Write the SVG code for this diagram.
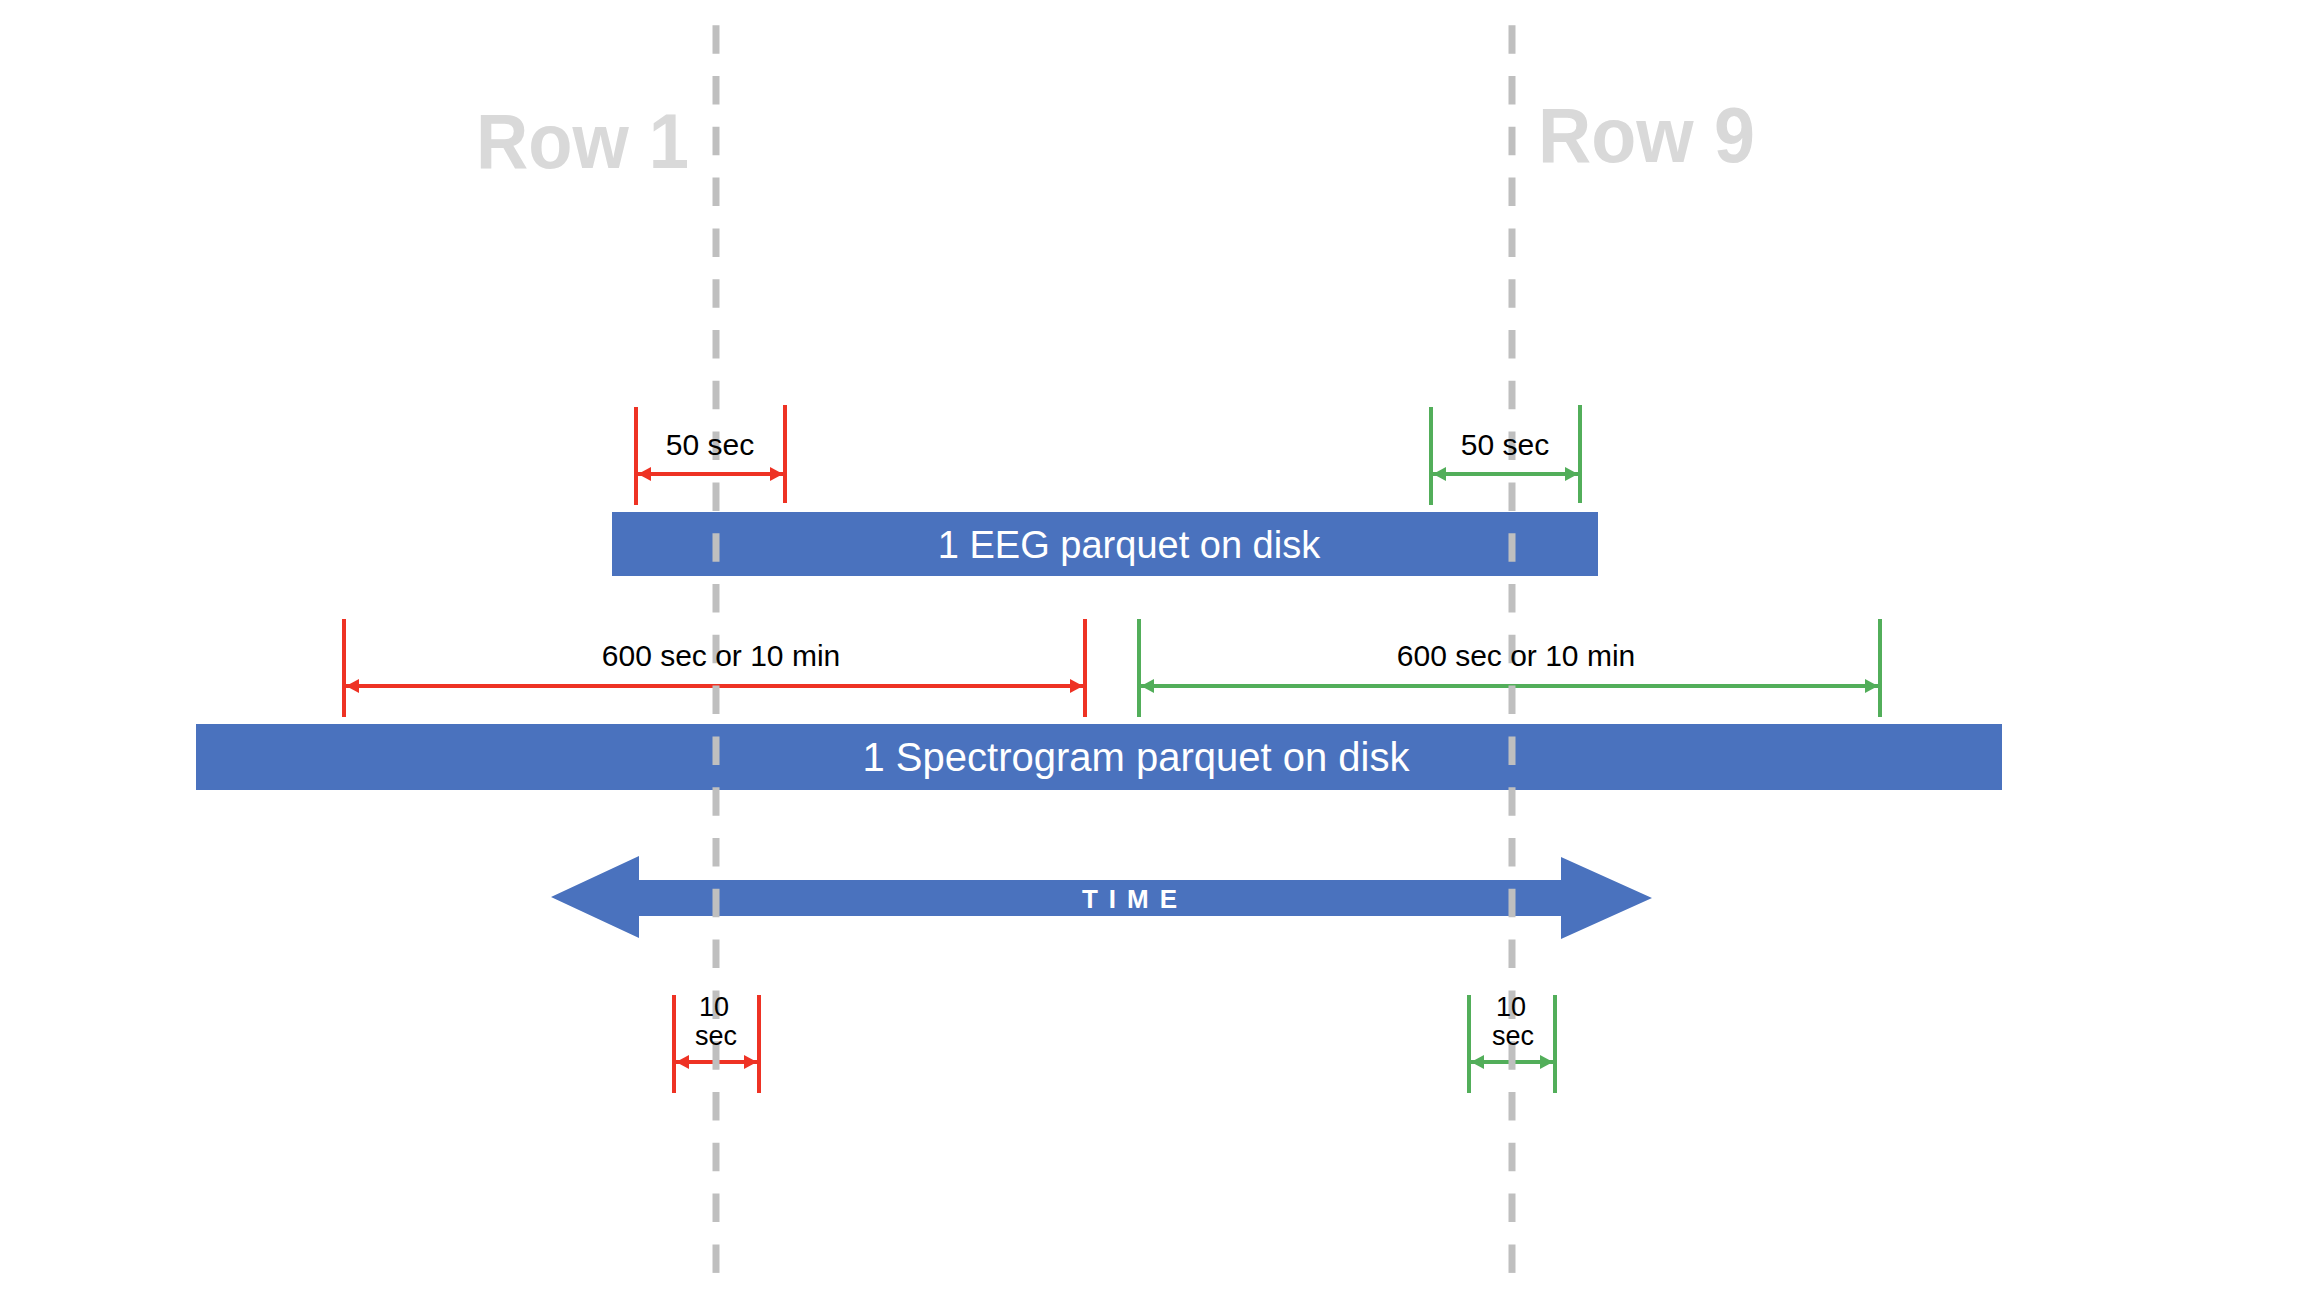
<svg xmlns="http://www.w3.org/2000/svg" width="2302" height="1290" viewBox="0 0 2302 1290">
<style>
.row{font-family:"Liberation Sans",Arial,sans-serif;font-weight:bold;font-size:77px;fill:#d9d9d9}
.lbl{font-family:"Liberation Sans",Arial,sans-serif;font-size:30px;fill:#000;text-anchor:middle}
.lbl2{font-family:"Liberation Sans",Arial,sans-serif;font-size:27px;fill:#000;text-anchor:middle}
.bar{fill:#4a72be}
.bartxt{font-family:"Liberation Sans",Arial,sans-serif;font-size:40px;fill:#fff;text-anchor:middle}
.time{font-family:"Liberation Sans",Arial,sans-serif;font-weight:bold;font-size:26px;fill:#fff;text-anchor:middle;letter-spacing:11px}
.red{stroke:#ee3224;stroke-width:4;fill:none}
.green{stroke:#52ae5a;stroke-width:4;fill:none}
.dash{stroke:#bfbfbf;stroke-width:7;stroke-dasharray:28.5 22.3}
</style>
<defs>
<marker id="ar" markerUnits="userSpaceOnUse" markerWidth="14" markerHeight="14" refX="13" refY="7" orient="auto-start-reverse" viewBox="0 0 14 14"><path d="M0,0 L13,7 L0,14 Z" fill="#ee3224"/></marker>
<marker id="ag" markerUnits="userSpaceOnUse" markerWidth="14" markerHeight="14" refX="13" refY="7" orient="auto-start-reverse" viewBox="0 0 14 14"><path d="M0,0 L13,7 L0,14 Z" fill="#52ae5a"/></marker>
</defs>
<rect width="2302" height="1290" fill="#fff"/>
<g id="row1"><text class="row" x="476" y="168" textLength="213" lengthAdjust="spacingAndGlyphs">Row 1</text></g>
<g id="row9"><text class="row" x="1538" y="162" textLength="217" lengthAdjust="spacingAndGlyphs">Row 9</text></g>
<g id="eeg"><rect class="bar" x="612" y="512" width="986" height="64"/></g>
<g id="spectrogram"><rect class="bar" x="196" y="724" width="1806" height="66"/></g>
<g id="time"><path class="bar" d="M551,897 L639,856 L639,880 L1561,880 L1561,857 L1652,898 L1561,939 L1561,916 L639,916 L639,938 Z"/></g>
<g id="connectors">
<line class="red" x1="636" y1="407" x2="636" y2="505"/><line class="red" x1="785" y1="405" x2="785" y2="503"/>
<line class="red" x1="638" y1="474" x2="783" y2="474" marker-start="url(#ar)" marker-end="url(#ar)"/>
<line class="green" x1="1431" y1="407" x2="1431" y2="505"/><line class="green" x1="1580" y1="405" x2="1580" y2="503"/>
<line class="green" x1="1433" y1="474" x2="1578" y2="474" marker-start="url(#ag)" marker-end="url(#ag)"/>
<line class="red" x1="344" y1="619" x2="344" y2="717"/><line class="red" x1="1085" y1="619" x2="1085" y2="717"/>
<line class="red" x1="346" y1="686" x2="1083" y2="686" marker-start="url(#ar)" marker-end="url(#ar)"/>
<line class="green" x1="1139" y1="619" x2="1139" y2="717"/><line class="green" x1="1880" y1="619" x2="1880" y2="717"/>
<line class="green" x1="1141" y1="686" x2="1878" y2="686" marker-start="url(#ag)" marker-end="url(#ag)"/>
<line class="red" x1="674" y1="995" x2="674" y2="1093"/><line class="red" x1="759" y1="995" x2="759" y2="1093"/>
<line class="red" x1="676" y1="1062" x2="757" y2="1062" marker-start="url(#ar)" marker-end="url(#ar)"/>
<line class="green" x1="1469" y1="995" x2="1469" y2="1093"/><line class="green" x1="1555" y1="995" x2="1555" y2="1093"/>
<line class="green" x1="1471" y1="1062" x2="1553" y2="1062" marker-start="url(#ag)" marker-end="url(#ag)"/>
<line class="dash" x1="716" y1="25.2" x2="716" y2="1273"/>
<line class="dash" x1="1512" y1="25.2" x2="1512" y2="1273"/>
</g>
<g id="labels">
<text class="bartxt" x="1129" y="558" style="font-size:38px">1 EEG parquet on disk</text>
<text class="bartxt" x="1136" y="771">1 Spectrogram parquet on disk</text>
<text class="time" x="1135" y="908">TIME</text>
<text class="lbl" x="710" y="455">50 sec</text>
<text class="lbl" x="1505" y="455">50 sec</text>
<text class="lbl" x="721" y="666">600 sec or 10 min</text>
<text class="lbl" x="1516" y="666">600 sec or 10 min</text>
<text class="lbl2" x="714" y="1016">10</text><text class="lbl2" x="716" y="1045">sec</text>
<text class="lbl2" x="1511" y="1016">10</text><text class="lbl2" x="1513" y="1045">sec</text>
</g>
</svg>
